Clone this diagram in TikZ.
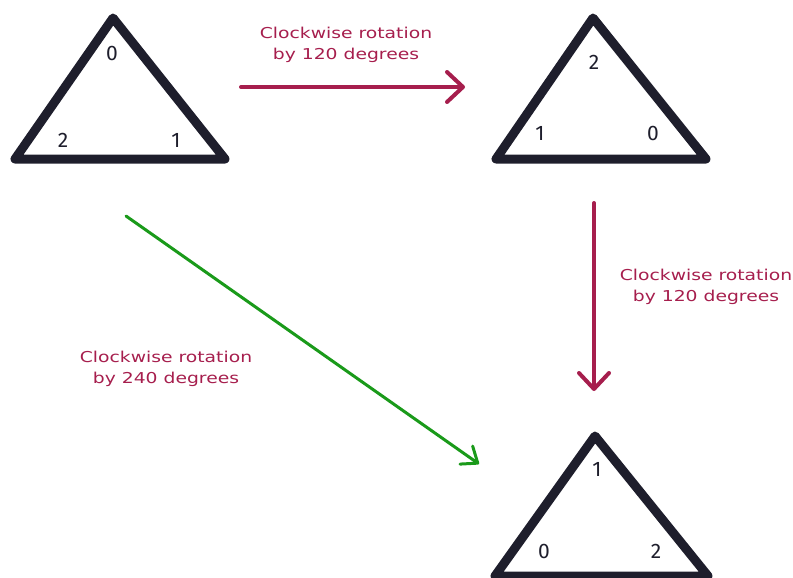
\documentclass[tikz,border=0pt]{standalone}
\usepackage{fontspec}
\setmainfont{Fira Sans}
\newfontfamily\lblfont[FakeStretch=1.25]{DejaVu Sans}
\usetikzlibrary{arrows.meta}
\definecolor{tri}{HTML}{1E1E2C}
\definecolor{redc}{HTML}{A61E4D}
\definecolor{greenc}{HTML}{1A9A1A}
\tikzset{
  tribox/.style={draw=tri, line width=9pt, line join=round, line cap=round},
  digit/.style={text=tri, font=\fontsize{21}{21}\selectfont, inner sep=0pt},
  lbl/.style={text=redc, font=\lblfont\fontsize{15}{20.5}\selectfont, align=center, inner sep=0pt},
  redarrow/.style={draw=redc, line width=4pt, line cap=round, -{Straight Barb[length=16pt,width=30pt,line width=4pt, round]}},
  greenarrow/.style={draw=greenc, line width=3pt, line cap=round, -{Straight Barb[length=14pt,width=22pt,line width=3pt, round]}},
}
\begin{document}
\begin{tikzpicture}[x=1pt,y=-1pt]
\useasboundingbox (0,0) rectangle (793,578);
% triangle 1
\coordinate (a1) at (113,18);
\coordinate (b1) at (15,159);
\coordinate (c1) at (225,159);
\draw[tribox] (a1) -- (b1) -- (c1) -- cycle;
\node[digit] (t1a) at (112,53) {0};
\node[digit] (t1b) at (63,140) {2};
\node[digit] (t1c) at (176,140) {1};
% triangle 2
\coordinate (a2) at (593,18);
\coordinate (b2) at (496,159);
\coordinate (c2) at (706,159);
\draw[tribox] (a2) -- (b2) -- (c2) -- cycle;
\node[digit] (t2a) at (594,62) {2};
\node[digit] (t2b) at (540,133) {1};
\node[digit] (t2c) at (653,133) {0};
% triangle 3
\coordinate (a3) at (595,436);
\coordinate (b3) at (495,576);
\coordinate (c3) at (708,576);
\draw[tribox] (a3) -- (b3) -- (c3) -- cycle;
\node[digit] (t3a) at (597,469) {1};
\node[digit] (t3b) at (544,551) {0};
\node[digit] (t3c) at (656,551) {2};
% arrows
\coordinate (r1s) at (241,87);
\coordinate (r1e) at (465,87);
\draw[redarrow] (r1s) -- (r1e);
\node[lbl] (l1) at (346,45) {Clockwise rotation\\by 120 degrees};
\coordinate (r2s) at (594,203);
\coordinate (r2e) at (594,391);
\draw[redarrow] (r2s) -- (r2e);
\node[lbl] (l2) at (706,287) {Clockwise rotation\\by 120 degrees};
\coordinate (g1s) at (126,216);
\coordinate (g1e) at (479,464);
\draw[greenarrow] (g1s) -- (g1e);
\node[lbl] (l3) at (166,369) {Clockwise rotation\\by 240 degrees};
\end{tikzpicture}
\end{document}
